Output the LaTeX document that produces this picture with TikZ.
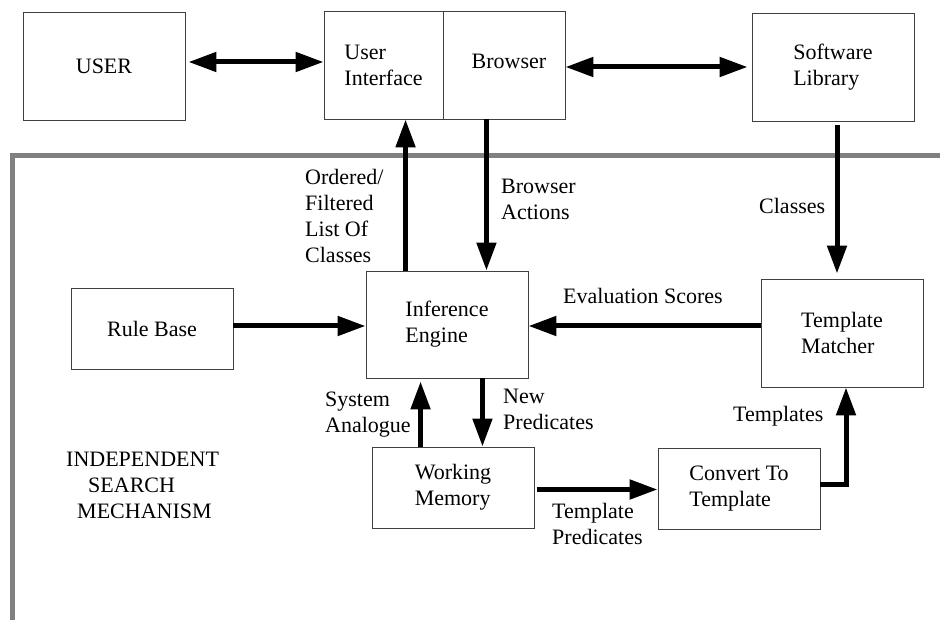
\documentclass[tikz,border=0pt]{standalone}
\usepackage{fontspec}
\setmainfont{Liberation Serif}
\usetikzlibrary{positioning,calc,arrows.meta}
\definecolor{FrameGrey}{RGB}{128,128,128}
\tikzset{
    blockbox/.style={rectangle, draw=black!75, line width=0.9pt, minimum width=162pt, minimum height=108pt, inner sep=0pt, align=left},
    flow/.style={line width=5pt, -{Triangle[length=28pt,width=19pt]}},
    biflow/.style={line width=5pt, {Triangle[length=28pt,width=19pt]}-{Triangle[length=28pt,width=19pt]}}
}

\begin{document}
\begin{tikzpicture}[
        x=1pt, y=-1pt,
        font=\fontsize{22}{26}\selectfont,
        % --- STYLE NHAN ---
        lbl/.style={anchor=north west, inner sep=0pt, align=left},
        % Hop thap
        lowbox/.style={blockbox, minimum height=81pt}
    ]
        \useasboundingbox (0,0) rectangle (940,620);

        % --- KHUNG XAM ---
        \draw[FrameGrey, line width=4.5pt] (940,155.5) -- (12.5,155.5) -- (12.5,620);

        % --- HANG TREN ---
        \node[blockbox] (user) at (104,66) {USER};
        \node[blockbox, minimum width=119pt] (ui) at (383.5,65) {User\\Interface};
        \node[blockbox, minimum width=122pt] (browser) at (504,65) {\hspace*{10pt}\raisebox{7pt}{Browser}};
        \node[blockbox] (lib) at (833,67) {Software\\Library};

        % --- BEN TRONG ---
        \node[lowbox] (rule) at (152,329) {Rule Base};
        \node[blockbox, minimum height=107pt] (infer) at (447,324.5) {Inference\\Engine};
        \node[blockbox] (tm) at (842,333) {Template\\Matcher};
        \node[lowbox] (wm) at (453,487.5) {Working\\Memory};
        \node[lowbox] (conv) at (739,488.5) {Convert To\\Template};

        % --- MUI TEN ---
        \draw[biflow] ([xshift=3pt,yshift=4pt]user.east) -- ([yshift=4pt]user.east -| ui.west);
        \draw[biflow] ([yshift=-2pt]browser.east) -- ([xshift=-4pt,yshift=-2pt]browser.east -| lib.west);
        \draw[flow] ([xshift=40pt]infer.north west) -- ([xshift=40pt]infer.north west |- ui.south);
        \draw[flow] ([xshift=-42pt]infer.north east |- browser.south) -- ([xshift=-42pt]infer.north east);
        \draw[flow] ([xshift=4pt,yshift=-4pt]lib.south) -- ([xshift=4pt,yshift=5pt]lib.south |- tm.north);
        \draw[flow] ([yshift=3pt]rule.east) -- ([yshift=3pt]rule.east -| infer.west);
        \draw[flow] (tm.west |- rule.east) ++(0,-3) coordinate (evalstart)
            -- (evalstart -| infer.east);
        \draw[flow] ([xshift=49pt]wm.north west) -- ([xshift=49pt,yshift=-3pt]wm.north west |- infer.south);
        \draw[flow] ([xshift=-46pt]infer.south east) -- ([xshift=-46pt]infer.south east |- wm.north);
        \draw[flow] ([xshift=3pt,yshift=-2pt]wm.east) -- ([yshift=-2pt]wm.east -| conv.west);
        \draw[flow] ([yshift=4pt]conv.east) -| ([xshift=4pt]tm.south);

        % --- NHAN ---
        \node[lbl] (ordered) at (305,169) {Ordered/\\Filtered\\List Of\\Classes};
        \node[lbl] (bact) at (501,179) {Browser\\Actions};
        \node[lbl] (classes) at (759,198) {Classes};
        \node[lbl] (evals) at (563,288) {Evaluation Scores};
        \node[lbl] (sysan) at (325,392) {System\\Analogue};
        \node[lbl] (newpred) at (503,389) {New\\Predicates};
        \node[lbl] (templ) at (733,406) {Templates};
        \node[lbl] (tpred) at (552,503) {Template\\Predicates};
        \node[lbl] (ism) at (66,452) {INDEPENDENT\\\hspace*{22pt}SEARCH\\\hspace*{11pt}MECHANISM};

    \end{tikzpicture}
\end{document}
